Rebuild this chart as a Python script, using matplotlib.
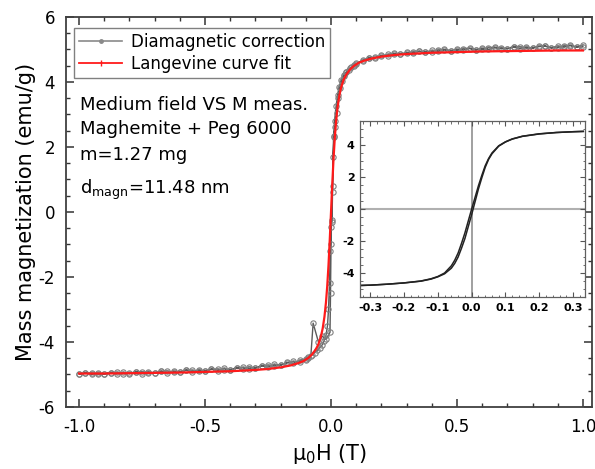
import matplotlib
matplotlib.use('Agg')
import matplotlib.pyplot as plt
from matplotlib.lines import Line2D
from matplotlib.ticker import MultipleLocator

plt.rcParams['font.family'] = ['DejaVu Sans']

# measured loop after diamagnetic correction, field sweep down (T, emu/g)
down_h = [1.000, 0.975, 0.950, 0.925, 0.900, 0.875, 0.850, 0.825, 0.800, 0.775,
          0.750, 0.725, 0.700, 0.675, 0.650, 0.625, 0.600, 0.575, 0.550, 0.525,
          0.500, 0.475, 0.450, 0.425, 0.400, 0.375, 0.350, 0.325, 0.300, 0.275,
          0.250, 0.225, 0.200, 0.175, 0.150, 0.125, 0.100, 0.090, 0.080, 0.070,
          0.060, 0.050, 0.042, 0.035, 0.028, 0.022, 0.016, 0.012, 0.008, 0.006,
          0.004, 0.000, -0.003, -0.006, -0.010, -0.014, -0.020, -0.028, -0.036, -0.045,
          -0.055, -0.065, -0.075, -0.090, -0.100, -0.125, -0.150, -0.175, -0.200, -0.225,
          -0.250, -0.275, -0.300, -0.325, -0.350, -0.375, -0.400, -0.425, -0.450, -0.475,
          -0.500, -0.525, -0.550, -0.575, -0.600, -0.625, -0.650, -0.675, -0.700, -0.725,
          -0.750, -0.775, -0.800, -0.825, -0.850, -0.875, -0.900, -0.925, -0.950, -0.975,
          -1.000]
down_m = [5.14, 5.08, 5.13, 5.07, 5.11, 5.05, 5.10, 5.09, 5.04, 5.08,
          5.03, 5.07, 5.02, 5.06, 5.05, 5.00, 5.04, 4.99, 5.03, 4.98,
          5.01, 4.96, 4.99, 4.94, 4.97, 4.92, 4.94, 4.89, 4.91, 4.86,
          4.87, 4.81, 4.82, 4.74, 4.73, 4.64, 4.57, 4.52, 4.45, 4.37,
          4.30, 4.18, 4.02, 3.82, 3.50, 3.05, 2.62, 2.35, 1.70, 0.60,
          -0.25, -0.45, -1.20, -2.20, -3.00, -3.50, -3.80, -3.98, -4.10, -4.18,
          -4.26, -4.33, -4.40, -4.47, -4.52, -4.56, -4.66, -4.63, -4.72, -4.69,
          -4.77, -4.73, -4.81, -4.76, -4.84, -4.79, -4.86, -4.81, -4.88, -4.83,
          -4.90, -4.85, -4.92, -4.87, -4.93, -4.89, -4.95, -4.90, -4.96, -4.91,
          -4.97, -4.92, -4.98, -4.93, -4.98, -4.94, -4.99, -4.95, -5.00, -4.95,
          -4.99]

# field sweep back up
up_h = [-1.000, -0.975, -0.950, -0.925, -0.900, -0.875, -0.850, -0.825, -0.800, -0.775,
        -0.750, -0.725, -0.700, -0.675, -0.650, -0.625, -0.600, -0.575, -0.550, -0.525,
        -0.500, -0.475, -0.450, -0.425, -0.400, -0.375, -0.350, -0.325, -0.300, -0.275,
        -0.250, -0.225, -0.200, -0.175, -0.150, -0.125, -0.100, -0.090, -0.080, -0.071,
        -0.050, -0.035, -0.020, -0.004, -0.002, 0.000, 0.002, 0.006, 0.010, 0.014,
        0.020, 0.026, 0.032, 0.040, 0.050, 0.060, 0.075, 0.090, 0.100, 0.125,
        0.150, 0.175, 0.200, 0.225, 0.250, 0.275, 0.300, 0.325, 0.350, 0.375,
        0.400, 0.425, 0.450, 0.475, 0.500, 0.525, 0.550, 0.575, 0.600, 0.625,
        0.650, 0.675, 0.700, 0.725, 0.750, 0.775, 0.800, 0.825, 0.850, 0.875,
        0.900, 0.925, 0.950, 0.975, 1.000]
up_m = [-4.99, -4.96, -4.95, -4.99, -4.98, -4.94, -4.93, -4.97, -4.96, -4.92,
        -4.91, -4.95, -4.94, -4.90, -4.89, -4.93, -4.92, -4.86, -4.87, -4.90,
        -4.89, -4.84, -4.83, -4.87, -4.85, -4.80, -4.78, -4.82, -4.79, -4.73,
        -4.71, -4.74, -4.70, -4.64, -4.60, -4.61, -4.55, -4.50, -4.42, -3.42,
        -4.00, -3.82, -3.92, -3.70, -2.50, -1.00, -0.30, 0.80, 2.30, 2.80,
        3.25, 3.60, 3.85, 4.05, 4.20, 4.30, 4.42, 4.50, 4.55, 4.67,
        4.74, 4.76, 4.79, 4.85, 4.88, 4.86, 4.88, 4.93, 4.95, 4.92,
        4.93, 4.99, 5.00, 4.96, 4.97, 5.03, 5.04, 4.99, 5.00, 5.06,
        5.07, 5.02, 5.03, 5.09, 5.09, 5.04, 5.05, 5.10, 5.11, 5.05,
        5.06, 5.12, 5.12, 5.07, 5.09]

# Langevin fit
fit_h = [-1.0, -0.9, -0.8, -0.7, -0.6, -0.5, -0.4, -0.3, -0.25, -0.2,
         -0.16, -0.13, -0.11, -0.09, -0.075, -0.06, -0.05, -0.04, -0.033, -0.026,
         -0.02, -0.015, -0.01, -0.005, 0.0, 0.005, 0.01, 0.015, 0.02, 0.026,
         0.033, 0.04, 0.05, 0.06, 0.075, 0.09, 0.11, 0.13, 0.16, 0.2,
         0.25, 0.3, 0.4, 0.5, 0.6, 0.7, 0.8, 0.9, 1.0]
fit_m = [-4.97, -4.97, -4.96, -4.95, -4.94, -4.92, -4.90, -4.86, -4.83, -4.78,
         -4.72, -4.65, -4.59, -4.49, -4.38, -4.22, -4.07, -3.83, -3.58, -3.22,
         -2.78, -2.28, -1.64, -0.86, 0.00, 0.86, 1.64, 2.28, 2.78, 3.22,
         3.58, 3.83, 4.07, 4.22, 4.38, 4.49, 4.59, 4.65, 4.72, 4.78,
         4.83, 4.86, 4.90, 4.92, 4.94, 4.95, 4.96, 4.97, 4.97]

# low field loop (inset)
ins_down_h = [0.33, 0.30, 0.25, 0.20, 0.15, 0.12, 0.10, 0.08, 0.06, 0.05,
              0.04, 0.03, 0.02, 0.01, 0.00, -0.01, -0.02, -0.03, -0.04, -0.05,
              -0.06, -0.08, -0.10, -0.12, -0.15, -0.20, -0.25, -0.30, -0.33]
ins_down_m = [4.85, 4.83, 4.78, 4.70, 4.55, 4.38, 4.20, 3.95, 3.50, 3.15,
              2.70, 2.10, 1.45, 0.72, 0.00, -0.75, -1.50, -2.15, -2.75, -3.20,
              -3.55, -4.00, -4.22, -4.36, -4.50, -4.62, -4.70, -4.76, -4.78]
ins_up_h = [-0.33, -0.30, -0.25, -0.20, -0.15, -0.12, -0.10, -0.08, -0.06, -0.05,
            -0.04, -0.03, -0.02, -0.01, 0.00, 0.01, 0.02, 0.03, 0.04, 0.05,
            0.06, 0.08, 0.10, 0.12, 0.15, 0.20, 0.25, 0.30, 0.33]
ins_up_m = [-4.78, -4.76, -4.70, -4.62, -4.51, -4.38, -4.24, -4.05, -3.70, -3.40,
            -3.00, -2.45, -1.85, -1.10, -0.35, 0.45, 1.25, 1.95, 2.60, 3.10,
            3.45, 3.93, 4.19, 4.37, 4.54, 4.69, 4.78, 4.83, 4.85]

notes = ['Medium field VS M meas.', 'Maghemite + Peg 6000', 'm=1.27 mg']
notes_y = [3.29, 2.55, 1.75]

gray = '#5a5a5a'
red = '#ff1a1a'

fig = plt.figure(figsize=(5.95, 4.69), dpi=100)
ax = fig.add_axes([66 / 595, 62 / 469, 526 / 595, 390 / 469])

ax.plot(down_h + up_h, down_m + up_m, color=gray, lw=1.0, marker='o', ms=3.8,
        mfc='none', mec='#808080', mew=0.8, zorder=2)
ax.plot(fit_h, fit_m, color=red, lw=1.6, zorder=3)

ax.set_xlim(-1.052, 1.036)
ax.set_ylim(-6, 6)
ax.xaxis.set_minor_locator(MultipleLocator(0.1))
ax.yaxis.set_minor_locator(MultipleLocator(0.5))
ax.set_xticks([-1.0, -0.5, 0.0, 0.5, 1.0])
ax.set_xticklabels(['-1.0', '-0.5', '0.0', '0.5', '1.0'])
ax.set_yticks([-6, -4, -2, 0, 2, 4, 6])
ax.set_yticklabels(['-6', '-4', '-2', '0', '2', '4', '6'])
ax.tick_params(which='both', direction='in', top=True, right=True, color='#333333')
ax.tick_params(which='major', length=6, width=1.1, labelsize=12, pad=8)
ax.tick_params(which='minor', length=3, width=1.0)
for sp in ax.spines.values():
    sp.set_linewidth(1.3)
    sp.set_color('#404040')

ax.set_xlabel(r'$\mathregular{\mu_0}$H (T)', fontsize=15, labelpad=4)
ax.set_ylabel('Mass magnetization (emu/g)', fontsize=15, labelpad=2)

for txt, y in zip(notes, notes_y):
    ax.text(-0.996, y, txt, fontsize=13, va='center', ha='left')
ax.text(-0.996, 0.68, r'd$_{\mathregular{magn}}$=11.48 nm', fontsize=13,
        va='center', ha='left')

handles = [
    Line2D([], [], color='#8a8a8a', lw=1.2, marker='o', ms=2.5, mfc='#8a8a8a'),
    Line2D([], [], color=red, lw=1.3, marker='|', ms=4),
]
leg = ax.legend(handles, ['Diamagnetic correction', 'Langevine curve fit'],
                loc='upper left', bbox_to_anchor=(0.015, 0.972), borderaxespad=0,
                fontsize=12, fancybox=False, framealpha=1, handlelength=2.6,
                handletextpad=0.5, labelspacing=0.25, borderpad=0.3)
leg.get_frame().set_edgecolor('#808080')
leg.get_frame().set_linewidth(1.0)

# zoom on the low field part of the loop
ins = fig.add_axes([360 / 595, 172 / 469, 225 / 595, 176 / 469])
ins.axhline(0, color='#b0b0b0', lw=1.5, zorder=1)
ins.axvline(0, color='#909090', lw=1.2, zorder=1)
ins.plot(ins_down_h, ins_down_m, color='#222222', lw=1.1, zorder=2)
ins.plot(ins_up_h, ins_up_m, color='#222222', lw=1.1, zorder=2)
ins.set_xlim(-0.33, 0.335)
ins.set_ylim(-5.5, 5.5)
ins.set_xticks([-0.3, -0.2, -0.1, 0.0, 0.1, 0.2, 0.3])
ins.set_xticklabels(['-0.3', '-0.2', '-0.1', '0.0', '0.1', '0.2', '0.3'])
ins.set_yticks([-4, -2, 0, 2, 4])
ins.set_yticklabels(['-4', '-2', '0', '2', '4'])
ins.xaxis.set_minor_locator(MultipleLocator(0.02))
ins.yaxis.set_minor_locator(MultipleLocator(0.5))
ins.tick_params(which='both', direction='in', top=True, right=True, color='#555555')
ins.tick_params(which='major', length=3.5, width=0.8, labelsize=8, pad=4)
ins.tick_params(which='minor', length=1.8, width=0.6)
for lab in ins.get_xticklabels() + ins.get_yticklabels():
    lab.set_fontweight('bold')
for sp in ins.spines.values():
    sp.set_linewidth(0.9)
    sp.set_color('#606060')

fig.savefig('out.png', dpi=100)
